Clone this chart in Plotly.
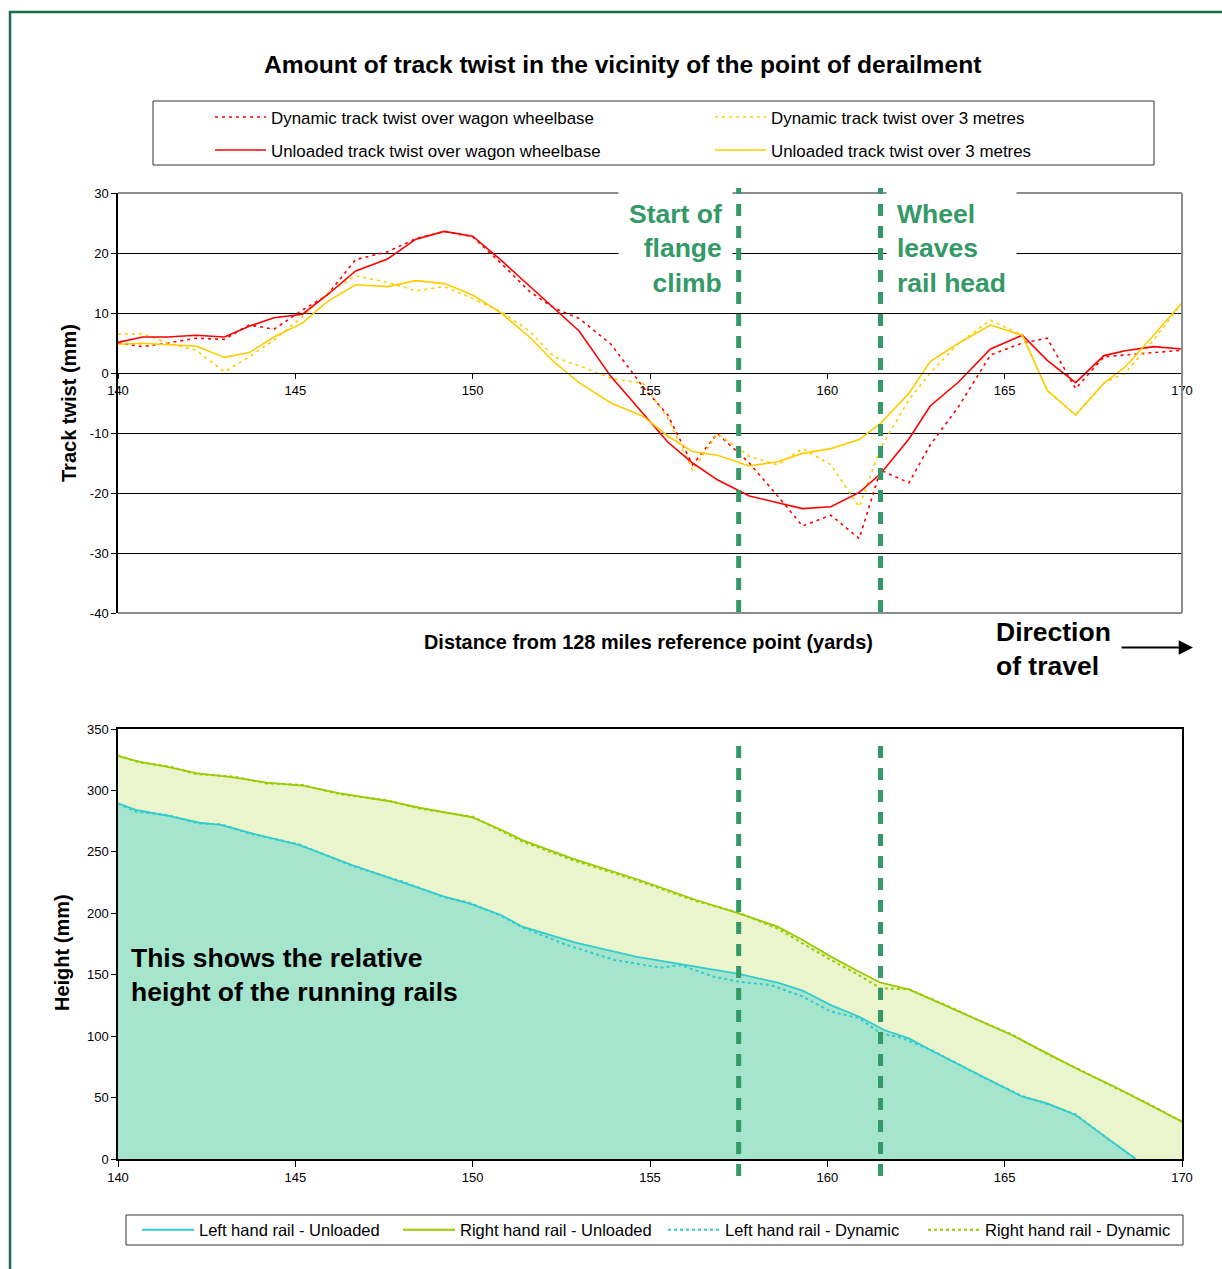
import plotly.graph_objects as go

W, H = 1222, 1269
FONT = "Liberation Sans, Arial, sans-serif"
GREEN = "#339966"

def px(v):
    return v / W

def py(v):
    return 1 - v / H

# ---------------- Top chart data (yards, mm) ----------------
twist_x = [140.0, 140.7, 141.4, 142.2, 143.0, 143.7, 144.4, 145.2, 145.9, 146.7,
           147.6, 148.4, 149.2, 150.0, 150.8, 151.6, 152.3, 153.0, 153.9, 154.8,
           155.5, 156.2, 156.9, 157.8, 158.6, 159.3, 160.1, 160.9, 161.5, 162.3,
           162.9, 163.7, 164.6, 165.5, 166.2, 167.0, 167.8, 168.4, 169.2, 170.0]

dyn_wagon = [5.0, 4.4, 5.0, 5.8, 5.6, 8.0, 7.3, 10.5, 13.0, 18.9,
             20.2, 22.4, 23.6, 22.7, 18.3, 13.6, 10.8, 9.1, 4.8, -2.3,
             -7.0, -15.3, -10.1, -15.0, -20.5, -25.5, -23.7, -27.6, -16.2, -18.3,
             -12.0, -5.6, 3.0, 5.0, 5.8, -2.6, 2.7, 3.0, 3.3, 3.8]

dyn_3m = [6.5, 6.5, 5.0, 3.8, 0.2, 2.7, 5.5, 9.4, 13.3, 16.2,
          15.1, 13.7, 14.4, 12.4, 10.2, 7.0, 2.7, 1.2, -0.9, -1.7,
          -7.5, -16.2, -10.1, -13.9, -15.3, -12.6, -15.3, -22.3, -12.5, -4.5,
          0.0, 4.95, 8.8, 6.3, -2.9, -7.0, -1.7, 0.0, 5.5, 11.7]

unl_wagon = [5.1, 6.0, 6.0, 6.3, 6.0, 7.8, 9.2, 9.8, 13.0, 17.0,
             19.0, 22.3, 23.6, 22.8, 18.8, 14.5, 10.7, 7.0, -0.6, -6.8,
             -11.5, -15.0, -17.8, -20.5, -21.6, -22.6, -22.3, -19.9, -16.8, -11.0,
             -5.5, -1.5, 4.0, 6.3, 2.1, -1.6, 2.9, 3.7, 4.4, 4.0]

unl_3m = [4.8, 4.95, 4.7, 4.5, 2.6, 3.4, 6.0, 8.3, 11.9, 14.7,
          14.4, 15.4, 14.9, 13.0, 10.0, 6.0, 1.8, -1.6, -5.0, -7.2,
          -10.5, -13.1, -13.7, -15.5, -14.8, -13.4, -12.6, -11.1, -8.4, -3.4,
          1.9, 4.95, 8.0, 6.3, -2.9, -7.0, -1.7, 1.0, 6.3, 11.7]

twist_ticks = [-40, -30, -20, -10, 0, 10, 20, 30]
twist_tick_text = ["-40", "-30", "-20", "-10", "0", "10", "20", "30"]

# ---------------- Bottom chart data (yards, mm) ----------------
right_x = [140.0, 140.6, 141.5, 142.2, 143.25, 144.2, 145.2, 146.26, 147.6, 148.5,
           150.0, 150.8, 151.4, 152.8, 154.7, 156.3, 157.5, 158.6, 159.3, 160.1,
           160.8, 161.5, 162.3, 163.4, 164.3, 165.2, 166.2, 167.1, 168.1, 169.0, 170.0]
right_unl = [328.0, 323.4, 318.5, 314.0, 310.7, 306.3, 303.9, 297.6, 291.4, 285.9,
             278.0, 268.0, 259.6, 244.7, 227.1, 210.8, 200.0, 189.1, 178.3, 164.7,
             153.8, 143.5, 138.1, 124.0, 113.1, 100.9, 86.0, 72.4, 58.8, 45.3, 30.4]
right_dyn = [328.5, 322.8, 319.2, 313.3, 311.3, 305.7, 304.5, 296.9, 292.0, 285.2,
             278.6, 267.0, 258.4, 243.5, 226.0, 210.0, 200.5, 187.5, 175.6, 162.0,
             151.2, 138.9, 138.1, 124.5, 112.5, 101.4, 85.4, 72.9, 58.2, 45.8, 30.4]

left_x = [140.0, 140.5, 141.4, 142.3, 142.9, 143.7, 145.1, 146.6, 148.1, 149.2,
          149.9, 150.8, 151.4, 152.9, 154.6, 156.0, 157.5, 158.6, 159.3, 160.1,
          160.9, 161.6, 162.3, 163.0, 164.3, 165.5, 166.2, 167.0, 167.9, 168.7]
left_unl = [289.5, 284.1, 279.4, 273.7, 271.9, 265.6, 255.6, 239.3, 224.4, 213.5,
            208.1, 198.6, 189.1, 176.1, 164.7, 157.9, 150.6, 143.5, 137.1, 125.3,
            115.8, 105.0, 98.2, 87.3, 68.4, 50.7, 45.3, 35.8, 16.8, 0.0]

left_dyn_x = [140.0, 140.5, 141.4, 142.3, 142.9, 143.7, 145.1, 146.6, 148.1, 149.2,
              149.9, 150.8, 151.4, 152.65, 154.0, 155.3, 155.85, 156.8, 157.5, 158.4,
              159.3, 160.1, 160.9, 161.5, 162.05, 163.0, 164.3, 165.5, 166.2, 167.0,
              167.9, 168.7]
left_dyn = [289.0, 282.8, 279.9, 273.0, 272.5, 265.0, 256.2, 238.6, 225.0, 213.0,
            208.6, 198.0, 188.5, 174.2, 162.0, 155.7, 157.9, 148.4, 144.3, 141.6,
            132.3, 120.0, 114.6, 102.3, 99.1, 87.8, 67.9, 51.2, 44.8, 36.3, 16.5, 0.0]

marker_x = [157.5, 161.5]
tick_vals = [140, 145, 150, 155, 160, 165, 170]

RED = "#FF0000"
YEL = "#FFCC00"
CYAN = "#33CCCC"
LIME = "#99CC00"

fig = go.Figure()

# top chart traces
fig.add_trace(go.Scatter(x=twist_x, y=dyn_wagon, mode="lines", name="Dynamic track twist over wagon wheelbase",
                         line=dict(color=RED, width=1.6, dash="3px,4px"), legend="legend", xaxis="x", yaxis="y"))
fig.add_trace(go.Scatter(x=twist_x, y=dyn_3m, mode="lines", name="Dynamic track twist over 3 metres",
                         line=dict(color=YEL, width=1.6, dash="3px,4px"), legend="legend2", xaxis="x", yaxis="y"))
fig.add_trace(go.Scatter(x=twist_x, y=unl_wagon, mode="lines", name="Unloaded track twist over wagon wheelbase",
                         line=dict(color=RED, width=1.6), legend="legend3", xaxis="x", yaxis="y"))
fig.add_trace(go.Scatter(x=twist_x, y=unl_3m, mode="lines", name="Unloaded track twist over 3 metres",
                         line=dict(color=YEL, width=1.6), legend="legend4", xaxis="x", yaxis="y"))

# bottom chart fills
fig.add_trace(go.Scatter(x=right_x, y=right_unl, mode="lines", fill="tozeroy", fillcolor="#EAF5CD",
                         line=dict(width=0, color=LIME), showlegend=False, hoverinfo="skip", xaxis="x2", yaxis="y2"))
fig.add_trace(go.Scatter(x=left_x, y=left_unl, mode="lines", fill="tozeroy", fillcolor="#A6E5CD",
                         line=dict(width=0, color=CYAN), showlegend=False, hoverinfo="skip", xaxis="x2", yaxis="y2"))
# bottom chart lines
fig.add_trace(go.Scatter(x=left_x, y=left_unl, mode="lines", name="Left hand rail - Unloaded",
                         line=dict(color=CYAN, width=1.8), legend="legend5", xaxis="x2", yaxis="y2"))
fig.add_trace(go.Scatter(x=right_x, y=right_unl, mode="lines", name="Right hand rail - Unloaded",
                         line=dict(color=LIME, width=1.8), legend="legend6", xaxis="x2", yaxis="y2"))
fig.add_trace(go.Scatter(x=left_dyn_x, y=left_dyn, mode="lines", name="Left hand rail - Dynamic",
                         line=dict(color=CYAN, width=2, dash="3px,3px"), legend="legend7", xaxis="x2", yaxis="y2"))
fig.add_trace(go.Scatter(x=right_x, y=right_dyn, mode="lines", name="Right hand rail - Dynamic",
                         line=dict(color=LIME, width=2, dash="3px,3px"), legend="legend8", xaxis="x2", yaxis="y2"))

def leg(xline, ycenter, iw, size):
    return dict(x=px(xline - 5), y=py(ycenter), xanchor="left", yanchor="middle",
                bgcolor="rgba(0,0,0,0)", borderwidth=0,
                font=dict(family=FONT, size=size, color="black"), itemwidth=iw,
                itemclick=False, itemdoubleclick=False)

axis_font = dict(family=FONT, size=13, color="black")

fig.update_layout(
    width=W, height=H,
    margin=dict(l=0, r=0, t=0, b=0, autoexpand=False),
    paper_bgcolor="white", plot_bgcolor="white",
    font=dict(family=FONT, color="black"),
    legend=leg(215, 117, 51, 16.9),
    legend2=leg(715, 117, 51, 16.9),
    legend3=leg(215, 150, 51, 16.9),
    legend4=leg(715, 150, 51, 16.9),
    legend5=leg(142, 1230, 52, 16.5),
    legend6=leg(403, 1230, 52, 16.5),
    legend7=leg(668, 1230, 52, 16.5),
    legend8=leg(928, 1230, 52, 16.5),
    xaxis=dict(domain=[px(118), px(1182)], range=[140, 170], anchor="free", position=py(373),
               tickvals=tick_vals, showline=True, linecolor="black", linewidth=1,
               ticks="outside", ticklen=5, tickcolor="black", tickfont=axis_font,
               showgrid=False, zeroline=False, fixedrange=True),
    yaxis=dict(domain=[py(613), py(193)], range=[-40, 30], anchor="x",
               tickvals=twist_ticks, ticktext=twist_tick_text,
               showgrid=True, gridcolor="black", gridwidth=1, zeroline=False,
               showline=True, linecolor="black", linewidth=1.5,
               ticks="outside", ticklen=5, tickcolor="black", tickfont=axis_font, fixedrange=True),
    xaxis2=dict(domain=[px(118), px(1182)], range=[140, 170], anchor="y2",
                tickvals=tick_vals, showline=True, mirror=True, linecolor="black", linewidth=1.5,
                ticks="outside", ticklen=6, tickcolor="black", tickfont=axis_font,
                showgrid=False, zeroline=False, fixedrange=True),
    yaxis2=dict(domain=[py(1159), py(729)], range=[0, 350], dtick=50, anchor="x2",
                showline=True, mirror=True, linecolor="black", linewidth=1.5,
                ticks="outside", ticklen=5, tickcolor="black", tickfont=axis_font,
                showgrid=False, zeroline=False, fixedrange=True),
)

shapes = []
# outer green frame
shapes.append(dict(type="rect", xref="paper", yref="paper", x0=px(10), x1=px(1240), y0=py(1290), y1=py(12),
                   line=dict(color="#1D6E48", width=2.5), layer="above"))
# gray plot-area border of top chart
for (x0, x1, y0, y1) in [(0, 1, 1, 1), (1, 1, 0, 1), (0, 1, 0, 0)]:
    shapes.append(dict(type="line", xref="x domain", yref="y domain", x0=x0, x1=x1, y0=y0, y1=y1,
                       line=dict(color="#8C8C8C", width=2), layer="above"))
# legend boxes
shapes.append(dict(type="rect", xref="paper", yref="paper", x0=px(153), x1=px(1154), y0=py(165), y1=py(101),
                   line=dict(color="#333333", width=1), layer="above"))
shapes.append(dict(type="rect", xref="paper", yref="paper", x0=px(126), x1=px(1183), y0=py(1245), y1=py(1215),
                   line=dict(color="#333333", width=1), layer="above"))
# green dashed markers
for mx in marker_x:
    shapes.append(dict(type="line", xref="x", yref="paper", x0=mx, x1=mx, y0=py(612), y1=py(188),
                       line=dict(color=GREEN, width=5, dash="12px,10px"), layer="above"))
    shapes.append(dict(type="line", xref="x2", yref="paper", x0=mx, x1=mx, y0=py(1176), y1=py(737),
                       line=dict(color=GREEN, width=5, dash="12px,10px"), layer="above"))
fig.update_layout(shapes=shapes)

BIG = 26.5
ann = []
ann.append(dict(text="<b>Amount of track twist in the vicinity of the point of derailment</b>",
                xref="paper", yref="paper", x=px(622), y=py(65), xanchor="center", yanchor="middle",
                showarrow=False, font=dict(family=FONT, size=24.6, color="black")))
ann.append(dict(text="<b>Distance from 128 miles reference point (yards)</b>",
                xref="paper", yref="paper", x=px(649), y=py(642), xanchor="center", yanchor="middle",
                showarrow=False, font=dict(family=FONT, size=19.9, color="black")))
ann.append(dict(text="<b>Track twist (mm)</b>", textangle=-90,
                xref="paper", yref="paper", x=px(69), y=py(403), xanchor="center", yanchor="middle",
                showarrow=False, font=dict(family=FONT, size=20, color="black")))
ann.append(dict(text="<b>Height (mm)</b>", textangle=-90,
                xref="paper", yref="paper", x=px(62), y=py(953), xanchor="center", yanchor="middle",
                showarrow=False, font=dict(family=FONT, size=20, color="black")))
ann.append(dict(text="<b>Start of<br>flange<br>climb</b>", align="right",
                xref="paper", yref="paper", x=px(733), y=py(249), xanchor="right", yanchor="middle",
                showarrow=False, bgcolor="white", borderpad=10,
                font=dict(family=FONT, size=BIG, color=GREEN)))
ann.append(dict(text="<b>Wheel<br>leaves<br>rail head</b>", align="left",
                xref="paper", yref="paper", x=px(886), y=py(249), xanchor="left", yanchor="middle",
                showarrow=False, bgcolor="white", borderpad=10,
                font=dict(family=FONT, size=BIG, color=GREEN)))
ann.append(dict(text="<b>Direction<br>of travel</b>", align="left",
                xref="paper", yref="paper", x=px(994), y=py(649), xanchor="left", yanchor="middle",
                showarrow=False, font=dict(family=FONT, size=BIG, color="black")))
ann.append(dict(text="", xref="paper", yref="paper", x=px(1193), y=py(647.5),
                ax=-73, ay=0, showarrow=True, arrowhead=2, arrowsize=1.3, arrowwidth=2.2,
                arrowcolor="black"))
ann.append(dict(text="<b>This shows the relative<br>height of the running rails</b>", align="left",
                xref="paper", yref="paper", x=px(129), y=py(975), xanchor="left", yanchor="middle",
                showarrow=False, font=dict(family=FONT, size=BIG, color="black")))
fig.update_layout(annotations=ann)

fig.write_html("out.html", config={"displayModeBar": False},
               post_script="document.body.style.margin='0px';document.body.style.overflow='hidden';")
